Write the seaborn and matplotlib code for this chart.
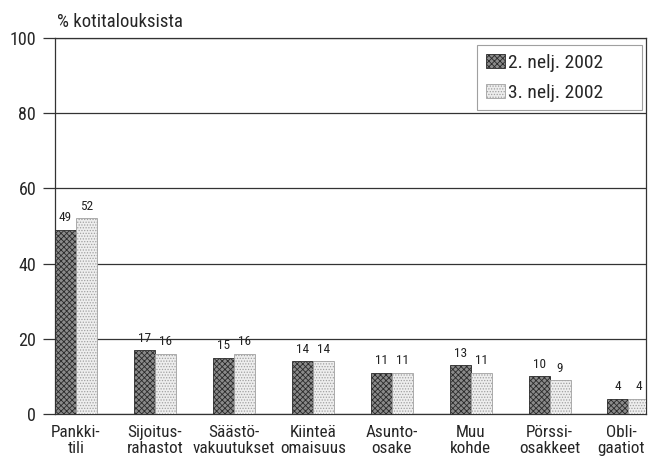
import numpy as np
import pandas as pd
import matplotlib
matplotlib.use("Agg")
import matplotlib.pyplot as plt
import matplotlib.transforms as mtransforms
from matplotlib import font_manager
from matplotlib.patches import Patch
import seaborn as sns

categories = ["Pankki-\ntili", "Sijoitus-\nrahastot", "Säästö-\nvakuutukset", "Kiinteä\nomaisuus",
              "Asunto-\nosake", "Muu\nkohde", "Pörssi-\nosakkeet", "Obli-\ngaatiot"]
q2_2002 = [49, 17, 15, 14, 11, 13, 10, 4]
q3_2002 = [52, 16, 16, 14, 11, 11, 9, 4]
series = ["2. nelj. 2002", "3. nelj. 2002"]
yticks = [0, 20, 40, 60, 80, 100]

df = pd.DataFrame({
    "kohde": categories * 2,
    "arvo": q2_2002 + q3_2002,
    "jakso": [series[0]] * len(categories) + [series[1]] * len(categories),
})

# pick a narrow / condensed face if one is installed
names = {f.name for f in font_manager.fontManager.ttflist}
cond = [(f.name, f.stretch) for f in font_manager.fontManager.ttflist]
family, stretch = "DejaVu Sans", "normal"
for cand in ["Liberation Sans Narrow", "Roboto Condensed", "Open Sans Condensed", "Noto Sans Condensed",
             "DejaVu Sans Condensed", "Arial Narrow"]:
    if cand in names:
        family = cand
        break
else:
    for nm, st in cond:
        if nm in ("DejaVu Sans", "Noto Sans", "Open Sans", "Roboto") and str(st) in ("condensed", "semi-condensed", "75", "87.5"):
            family, stretch = nm, "condensed"
            break

sns.set_style("white")
plt.rcParams["font.family"] = [family, "DejaVu Sans"]
plt.rcParams["font.stretch"] = stretch
plt.rcParams["hatch.linewidth"] = 0.6
scale = 1.0 if (family != "DejaVu Sans" or stretch == "condensed") else 0.85

fig = plt.figure(figsize=(6.5, 4.62), dpi=100)
ax = fig.add_axes([0.0846, 0.1039, 0.909, 0.8139])

styles = {
    series[0]: dict(fc="#8a8a8a", ec="#2a2a2a", hatch="xxxxxx"),
    series[1]: dict(fc="#eeeeee", ec="#a0a0a0", hatch="......"),
}

sns.barplot(data=df, x="kohde", y="arvo", hue="jakso", hue_order=series,
            width=0.532, gap=0, ax=ax, legend=False, saturation=1)

n = len(categories)
for i, p in enumerate(ax.patches[:2 * n]):
    st = styles[series[i // n]]
    p.set_facecolor(st["fc"])
    p.set_edgecolor(st["ec"])
    p.set_hatch(st["hatch"])
    p.set_linewidth(0.6)
    p.set_zorder(3)

for cont in ax.containers:
    ax.bar_label(cont, fontsize=9.5 * scale, padding=4, color="#222222")

ax.set_ylim(0, 100)
ax.set_xlim(-0.266, 7.22)
ax.set_yticks(yticks)
ax.yaxis.grid(True, color="#333333", linewidth=0.9, zorder=0)
ax.set_axisbelow(True)
ax.tick_params(axis="y", labelsize=13 * scale, length=8.5, width=0.9, color="#333333",
               direction="out", pad=5, left=True)
ax.tick_params(axis="x", labelsize=12.3 * scale, length=0, pad=8)
for lab in ax.get_xticklabels():
    lab.set_linespacing(1.05)
# last label sits right at the frame edge, nudge it in a little
last = ax.get_xticklabels()[-1]
last.set_transform(last.get_transform() + mtransforms.ScaledTranslation(-0.07, 0, fig.dpi_scale_trans))
ax.set_xlabel("")
ax.set_ylabel("")

for side in ["top", "right", "bottom", "left"]:
    ax.spines[side].set_visible(True)
    ax.spines[side].set_color("#333333")
    ax.spines[side].set_linewidth(0.9)

fig.text(57 / 650, 1 - 22 / 462, "% kotitalouksista", fontsize=13.5 * scale, ha="left", va="center")

handles = [Patch(facecolor=styles[s]["fc"], edgecolor=styles[s]["ec"], hatch=styles[s]["hatch"], linewidth=0.6)
           for s in series]
leg = ax.legend(handles, series, loc="upper left", bbox_to_anchor=(0.714, 0, 0.279, 0.981), mode="expand",
                fontsize=14 * scale, frameon=True, fancybox=False, edgecolor="#888888",
                handlelength=1.0, handleheight=0.7, handletextpad=0.15, borderpad=0.45,
                labelspacing=0.6, borderaxespad=0)
leg.get_frame().set_linewidth(0.8)

fig.savefig("out.png", dpi=100)
